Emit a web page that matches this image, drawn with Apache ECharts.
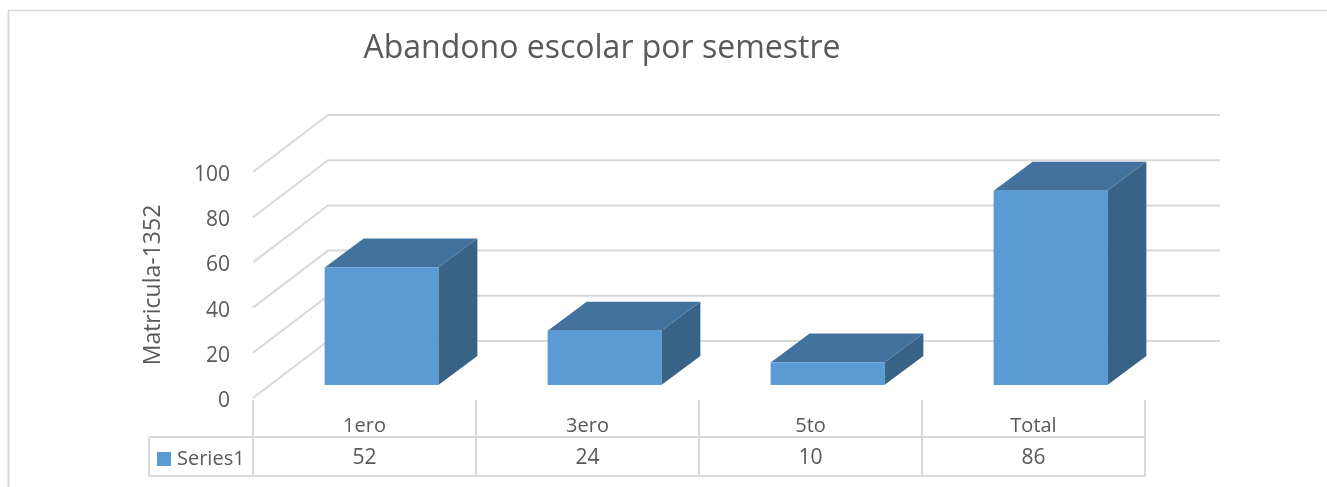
<!DOCTYPE html>
<html>
<head>
<meta charset="utf-8">
<script src="https://cdn.jsdelivr.net/npm/echarts@6/dist/echarts.min.js"></script>
<style>
html,body{margin:0;padding:0;background:#fff;}
#c{width:1327px;height:487px;}
</style>
</head>
<body>
<div id="c"></div>
<script>
const titleText = 'Abandono escolar por semestre';
const yAxisName = 'Matricula-1352';
const seriesName = 'Series1';
const categories = ['1ero', '3ero', '5to', 'Total'];
const values = [52, 24, 10, 86];
const yTicks = [0, 20, 40, 60, 80, 100];

const FONT = '"Open Sans", sans-serif';
const TXT = '#595959';
const GRID = '#d9d9d9';
const FRONT = '#5b9bd5';
const TOPC = '#44729f';
const SIDE = '#386387';
// depth vectors (pixels) for floor and bar
const FD = [75, -57];
const BO = [17, -13];
const BD = [39, -29];

const chart = echarts.init(document.getElementById('c'), null, {renderer: 'canvas'});

const option = {
  animation: false,
  backgroundColor: '#fff',
  title: {
    text: titleText,
    left: 597, top: 28, textAlign: 'center',
    textStyle: {fontFamily: FONT, fontSize: 32, fontWeight: 'normal', color: TXT}
  },
  legend: {
    data: [seriesName],
    left: 157, top: 449, padding: 0,
    icon: 'rect', itemWidth: 14, itemHeight: 14, itemGap: 4,
    textStyle: {fontFamily: FONT, fontSize: 20, color: TXT, padding: [0, 0, 0, 1]},
    selectedMode: false
  },
  grid: {left: 253, right: 182, top: 172, bottom: 89},
  xAxis: {
    type: 'category', data: categories,
    axisLine: {show: false}, axisTick: {show: false}, axisLabel: {show: false},
    splitLine: {show: false}
  },
  yAxis: {
    type: 'value', min: 0, max: 100, interval: 20,
    axisLine: {show: false}, axisTick: {show: false}, splitLine: {show: false},
    axisLabel: {show: false},
    name: yAxisName, nameLocation: 'middle', nameRotate: 90, nameGap: 88,
    nameTextStyle: {fontFamily: FONT, fontSize: 23, color: TXT}
  },
  graphic: [
    {type: 'line', shape: {x1: 8.5, y1: 10, x2: 8.5, y2: 487}, style: {stroke: GRID, lineWidth: 2}, z: 0},
    {type: 'line', shape: {x1: 8, y1: 10.5, x2: 1327, y2: 10.5}, style: {stroke: GRID, lineWidth: 1.5}, z: 0},
    {type: 'line', shape: {x1: 149, y1: 437, x2: 149, y2: 476}, style: {stroke: GRID, lineWidth: 2}},
    {type: 'line', shape: {x1: 149, y1: 437, x2: 253, y2: 437}, style: {stroke: GRID, lineWidth: 2}},
    {type: 'line', shape: {x1: 149, y1: 476, x2: 253, y2: 476}, style: {stroke: GRID, lineWidth: 2}}
  ],
  series: [
    {
      type: 'custom', name: 'wall', silent: true, clip: false, z: 1,
      data: yTicks.map(v => [0, v]),
      renderItem: function (params, api) {
        const v = api.value(1);
        const y = api.coord([0, v])[1];
        const cs = params.coordSys;
        const x0 = cs.x, w = cs.width;
        return {
          type: 'group',
          children: [
            {type: 'polyline',
              shape: {points: [[x0, y], [x0 + FD[0], y + FD[1]], [x0 + w + FD[0], y + FD[1]]]},
              style: {stroke: GRID, lineWidth: 2, fill: null}},
            {type: 'text', style: {text: String(v), x: x0 - 23, y: y + 3, align: 'right', verticalAlign: 'middle',
              font: '21px ' + FONT, fill: TXT}}
          ]
        };
      }
    },
    {
      type: 'custom', name: seriesName, clip: false, z: 3,
      itemStyle: {color: FRONT},
      data: values.map((v, i) => [i, v]),
      renderItem: function (params, api) {
        const i = api.value(0), v = api.value(1);
        const base = api.coord([i, 0]);
        const top = api.coord([i, v]);
        const band = api.size([1, 0])[0];
        const w = band * 0.51;
        const x0 = base[0] + BO[0] - w / 2, x1 = x0 + w;
        const yb = base[1] + BO[1], yt = top[1] + BO[1];
        return {
          type: 'group',
          children: [
            {type: 'polygon', shape: {points: [[x1, yt], [x1 + BD[0], yt + BD[1]], [x1 + BD[0], yb + BD[1]], [x1, yb]]},
              style: {fill: SIDE}},
            {type: 'polygon', shape: {points: [[x0, yt], [x1, yt], [x1 + BD[0], yt + BD[1]], [x0 + BD[0], yt + BD[1]]]},
              style: {fill: TOPC}},
            {type: 'rect', shape: {x: x0, y: yt, width: w, height: yb - yt}, style: {fill: FRONT}}
          ]
        };
      }
    },
    {
      type: 'custom', name: 'table', silent: true, clip: false, z: 2,
      data: values.map((v, i) => [i, v]),
      renderItem: function (params, api) {
        const i = api.value(0), v = api.value(1);
        const c = api.coord([i, 0]);
        const band = api.size([1, 0])[0];
        const xl = c[0] - band / 2, xr = c[0] + band / 2;
        const y0 = c[1];
        const ch = [
          {type: 'line', shape: {x1: xl, y1: y0 + 2, x2: xl, y2: y0 + 78}, style: {stroke: GRID, lineWidth: 2}},
          {type: 'line', shape: {x1: xl, y1: y0 + 39, x2: xr, y2: y0 + 39}, style: {stroke: GRID, lineWidth: 2}},
          {type: 'line', shape: {x1: xl, y1: y0 + 78, x2: xr, y2: y0 + 78}, style: {stroke: GRID, lineWidth: 2}},
          {type: 'text', style: {text: categories[i], x: c[0], y: y0 + 28, align: 'center', verticalAlign: 'middle',
            font: '20px ' + FONT, fill: TXT}},
          {type: 'text', style: {text: String(v), x: c[0], y: y0 + 60, align: 'center', verticalAlign: 'middle',
            font: '21px ' + FONT, fill: TXT}}
        ];
        if (i === categories.length - 1) {
          ch.push({type: 'line', shape: {x1: xr, y1: y0 + 2, x2: xr, y2: y0 + 78}, style: {stroke: GRID, lineWidth: 2}});
        }
        return {type: 'group', children: ch};
      }
    }
  ]
};
chart.setOption(option);
</script>
</body>
</html>
